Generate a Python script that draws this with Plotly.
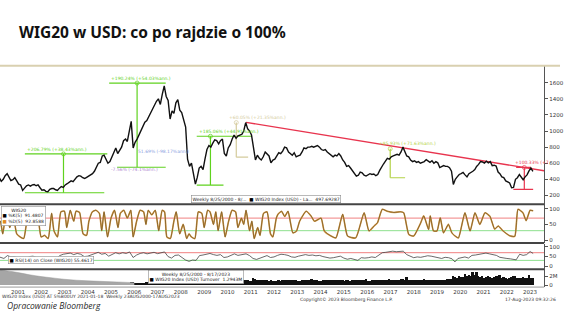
import plotly.graph_objects as go
import pandas as pd

# ---------------- DATA ----------------
# WIG20 index in USD, monthly (mid-month), Sep 2000 .. Aug 2023
price_vals = [
    420, 375, 400, 445,                                              # 2000 Sep-Dec
    470, 420, 385, 395, 420, 380, 340, 330, 262, 290, 320, 330,      # 2001
    315, 330, 335, 320, 330, 295, 265, 270, 250, 245, 275, 285,      # 2002
    285, 270, 262, 290, 310, 300, 330, 345, 360, 380, 370, 400,      # 2003
    430, 445, 440, 420, 410, 425, 440, 460, 470, 500, 560, 600,      # 2004
    610, 690, 700, 640, 600, 620, 680, 720, 790, 720, 760, 800,      # 2005
    880, 900, 870, 980, 1120, 790, 860, 900, 950, 1000, 1060, 1110,  # 2006
    1130, 1180, 1220, 1270, 1330, 1370, 1400, 1330, 1460, 1560, 1430, 1380,  # 2007
    1150, 1250, 1220, 1350, 1390, 1260, 1230, 1150, 1050, 650, 560, 600,     # 2008
    470, 340, 420, 540, 560, 520, 650, 770, 820, 800, 850, 890,      # 2009
    880, 840, 880, 900, 720, 690, 790, 830, 900, 950, 910, 940,      # 2010
    950, 960, 1000, 1105, 1030, 1000, 950, 770, 640, 700, 660, 640,  # 2011
    680, 740, 720, 690, 605, 640, 650, 690, 730, 720, 750, 800,      # 2012
    790, 740, 720, 700, 730, 680, 690, 700, 740, 790, 780, 800,      # 2013
    800, 810, 800, 815, 820, 800, 770, 760, 770, 740, 720, 700,      # 2014
    680, 700, 690, 720, 690, 640, 610, 560, 570, 540, 510, 480,      # 2015
    440, 450, 490, 480, 450, 440, 455, 470, 460, 465, 445, 460,      # 2016
    510, 560, 590, 625, 660, 650, 680, 690, 700, 710, 700, 740,      # 2017
    800, 730, 690, 680, 640, 620, 630, 610, 620, 600, 610, 620,      # 2018
    645, 625, 610, 630, 600, 620, 605, 545, 555, 570, 560, 560,      # 2019
    545, 500, 336, 400, 430, 460, 470, 485, 455, 430, 470, 480,      # 2020
    500, 520, 560, 585, 620, 615, 600, 625, 605, 620, 570, 575,      # 2021
    565, 490, 470, 430, 420, 380, 370, 355, 295, 300, 400, 420,      # 2022
    460, 430, 395, 430, 455, 505, 540, 498,                          # 2023 Jan-Aug
]
price_start = "2000-09-01"

# Red resistance trend line (date, value)
trend_dates = ["2011-04-22", "2024-02-06"]
trend_vals = [1108, 506]

# Measurement annotations: low, high, low-line span, high-line span, vertical date, label
measures = [
    dict(color="#5fd21e", low=233, high=715, low_span=(2001.80, 2005.21), high_span=(2001.80, 2005.34),
         vert=2003.46, label="+206.79% (+38.43%ann.)", lab_x=2001.80, lab_y=715),
    dict(color="#5fd21e", low=550, high=1596, low_span=(2005.76, 2007.85), high_span=(2005.42, 2007.85),
         vert=2006.62, label="+190.24% (+54.03%ann.)", lab_x=2005.42, lab_y=1596),
    dict(color="#5fd21e", low=328, high=935, low_span=(2009.18, 2010.33), high_span=(2009.18, 2011.52),
         vert=2009.77, label="+185.06% (+44.91%ann.)", lab_x=2009.18, lab_y=935),
    dict(color="#d4cb9c", low=675, high=1105, low_span=(2010.88, 2011.39), high_span=None,
         vert=2010.88, label="+60.05% (+21.35%ann.)", lab_x=2010.46, lab_y=1115),
    dict(color="#b3d246", low=419, high=779, low_span=(2017.49, 2018.13), high_span=None,
         vert=2017.49, label="+85.93% (+71.63%ann.)", lab_x=2016.94, lab_y=785),
    dict(color="#e8344e", low=274, high=547, low_span=(2022.78, 2023.63), high_span=(2022.90, 2023.54),
         vert=2023.25, label="+100.33% (+7", lab_x=2022.78, lab_y=550),
]
extra_labels = [
    ("51.69% (-98.17%ann.)", 2006.58, 745, "#8da0e0"),
    ("-7.56% (-74.1%ann.)", 2005.42, 522, "#b08ad0"),
]

# Stochastic oscillator (decimal year, value)
stoch_t = [2000.70, 2000.75, 2000.85, 2001.00, 2001.15, 2001.30, 2001.45, 2001.60, 2001.75, 2001.95,
           2002.10, 2002.25, 2002.35, 2002.50, 2002.65, 2002.80, 2002.95, 2003.05, 2003.20, 2003.35,
           2003.50, 2003.60, 2003.75, 2003.90, 2004.00, 2004.15, 2004.30, 2004.45, 2004.55, 2004.70,
           2004.85, 2005.00, 2005.10, 2005.20, 2005.35, 2005.50, 2005.65, 2005.80, 2005.90, 2006.05,
           2006.20, 2006.35, 2006.45, 2006.60, 2006.75, 2006.90, 2007.00, 2007.10, 2007.25, 2007.40,
           2007.55, 2007.70, 2007.80, 2007.90, 2008.05, 2008.20, 2008.30, 2008.45, 2008.60, 2008.75,
           2008.85, 2008.95, 2009.10, 2009.25, 2009.40, 2009.50, 2009.65, 2009.75, 2009.90, 2010.00,
           2010.10, 2010.25, 2010.40, 2010.55, 2010.70, 2010.85, 2010.95, 2011.10, 2011.20, 2011.30,
           2011.45, 2011.55, 2011.65, 2011.80, 2011.90, 2012.05, 2012.20, 2012.35, 2012.45, 2012.60,
           2012.67, 2012.82, 2012.96, 2013.10, 2013.31, 2013.46, 2013.60, 2013.88, 2014.09, 2014.24,
           2014.52, 2014.66, 2014.95, 2015.16, 2015.45, 2015.66, 2016.01, 2016.37, 2016.58, 2016.80,
           2016.94, 2017.15, 2017.36, 2017.65, 2017.93, 2018.07, 2018.29, 2018.50, 2018.79, 2018.93,
           2019.14, 2019.21, 2019.35, 2019.50, 2019.64, 2019.78, 2019.99, 2020.14, 2020.28, 2020.42,
           2020.70, 2020.92, 2021.13, 2021.34, 2021.56, 2021.77, 2021.98, 2022.13, 2022.34, 2022.62,
           2022.84, 2022.98, 2023.19, 2023.33, 2023.50, 2023.63]
stoch_v = [55, 60, 20, 90, 40, 75, 20, 10, 5, 85,
           90, 50, 80, 10, 15, 5, 85, 30, 10, 90,
           92, 40, 95, 60, 92, 88, 20, 15, 60, 90,
           95, 85, 30, 90, 10, 70, 95, 40, 85, 95,
           70, 95, 10, 60, 95, 90, 50, 95, 80, 95,
           30, 95, 90, 10, 5, 60, 90, 20, 50, 5,
           20, 10, 5, 90, 85, 40, 95, 90, 50, 90,
           30, 90, 10, 60, 95, 90, 40, 70, 50, 95,
           30, 60, 5, 40, 15, 85, 90, 20, 10, 70,
           82, 92, 75, 92, 23, 28, 60, 92, 77, 60,
           70, 29, 13, 7, 82, 13, 7, 87, 29, 45,
           55, 98, 92, 88, 90, 87, 18, 13, 53, 77,
           34, 77, 29, 29, 71, 23, 50, 23, 13, 7,
           87, 29, 87, 50, 87, 76, 35, 45, 29, 14,
           12, 98, 87, 62, 95, 93]

# RSI(14) (decimal year, value)
rsi_t = [2000.70, 2000.75, 2000.90, 2001.05, 2001.20, 2001.35, 2001.50, 2001.70, 2001.85, 2002.00,
         2002.15, 2002.30, 2002.50, 2002.70, 2002.85, 2003.00, 2003.15, 2003.30, 2003.45, 2003.60,
         2003.75, 2003.90, 2004.05, 2004.20, 2004.35, 2004.50, 2004.65, 2004.80, 2004.95, 2005.10,
         2005.25, 2005.40, 2005.55, 2005.70, 2005.85, 2006.00, 2006.15, 2006.30, 2006.45, 2006.60,
         2006.75, 2006.90, 2007.05, 2007.20, 2007.35, 2007.50, 2007.65, 2007.80, 2007.95, 2008.10,
         2008.25, 2008.40, 2008.55, 2008.70, 2008.85, 2009.00, 2009.15, 2009.30, 2009.45, 2009.60,
         2009.75, 2009.90, 2010.05, 2010.20, 2010.35, 2010.50, 2010.65, 2010.80, 2010.95, 2011.10,
         2011.30, 2011.45, 2011.60, 2011.75, 2011.90, 2012.05, 2012.20, 2012.35, 2012.50, 2012.65,
         2012.80, 2012.95, 2013.10, 2013.25, 2013.40, 2013.55, 2013.70, 2013.85, 2014.00, 2014.15,
         2014.30, 2014.45, 2014.60, 2014.75, 2014.90, 2015.05, 2015.20, 2015.35, 2015.50, 2015.65,
         2015.80, 2015.95, 2016.10, 2016.25, 2016.40, 2016.55, 2016.70, 2016.85, 2017.00, 2017.15,
         2017.30, 2017.45, 2017.60, 2017.75, 2017.90, 2018.05, 2018.20, 2018.35, 2018.50, 2018.65,
         2018.80, 2018.95, 2019.10, 2019.25, 2019.40, 2019.55, 2019.70, 2019.85, 2020.00, 2020.15,
         2020.27, 2020.40, 2020.55, 2020.70, 2020.85, 2021.00, 2021.15, 2021.30, 2021.45, 2021.60,
         2021.75, 2021.90, 2022.05, 2022.20, 2022.35, 2022.50, 2022.65, 2022.80, 2022.90, 2023.05,
         2023.20, 2023.35, 2023.50, 2023.63]
rsi_v = [48, 45, 40, 55, 48, 50, 42, 30, 38, 50,
         52, 45, 35, 32, 40, 45, 40, 55, 62, 65,
         68, 60, 66, 62, 50, 52, 58, 68, 72, 62,
         66, 52, 62, 70, 64, 70, 66, 74, 45, 58,
         66, 70, 64, 68, 72, 65, 70, 74, 50, 42,
         56, 58, 45, 32, 25, 32, 30, 55, 58, 62,
         66, 60, 56, 60, 45, 48, 58, 64, 56, 58,
         64, 55, 40, 35, 42, 50, 55, 45, 48, 56,
         62, 60, 56, 48, 46, 52, 58, 60, 56, 58,
         54, 56, 50, 46, 42, 44, 50, 52, 42, 36,
         40, 35, 30, 44, 42, 44, 48, 45, 56, 70,
         72, 76, 78, 75, 76, 78, 60, 50, 44, 48,
         46, 50, 54, 52, 48, 44, 40, 46, 44, 38,
         22, 40, 46, 48, 42, 56, 58, 62, 66, 68,
         64, 60, 56, 46, 42, 40, 38, 35, 33, 62,
         56, 60, 76, 66]

# Turnover (millions), monthly bars Jun 2005 .. Aug 2023
vol_start = "2005-06-01"
vol_vals = [
    0.20, 0.25, 0.20, 0.30, 0.30, 0.35, 0.30,
    0.40, 0.45, 0.40, 0.50, 0.70, 0.60, 0.40, 0.40, 0.45, 0.50, 0.50, 0.55,
    0.60, 0.70, 0.80, 0.70, 0.75, 0.80, 0.70, 0.90, 0.80, 0.90, 0.90, 0.80,
    1.10, 0.90, 0.90, 0.80, 0.80, 0.80, 0.90, 0.80, 1.00, 1.30, 1.00, 0.90,
    0.80, 0.90, 1.00, 1.10, 1.20, 1.00, 1.10, 1.00, 1.10, 1.00, 0.90, 0.80,
    1.00, 0.90, 1.00, 1.10, 1.20, 0.90, 0.90, 0.90, 1.00, 1.10, 1.00, 0.90,
    1.20, 1.10, 1.00, 1.10, 1.00, 0.90, 0.90, 1.50, 1.30, 1.10, 1.20, 1.00,
    1.00, 1.10, 1.00, 0.90, 1.00, 0.90, 0.80, 0.80, 1.00, 0.90, 1.00, 1.10,
    1.10, 1.00, 1.00, 1.10, 1.20, 1.20, 0.90, 0.90, 1.00, 1.10, 1.00, 1.20,
    1.20, 1.30, 1.10, 1.00, 1.00, 0.90, 0.90, 1.00, 1.00, 1.10, 1.00, 1.10,
    1.10, 1.00, 1.20, 1.20, 1.10, 1.00, 0.90, 1.00, 1.00, 0.90, 1.00, 1.10,
    1.20, 1.10, 1.00, 1.10, 1.00, 1.30, 0.90, 0.90, 1.00, 1.00, 1.10, 1.10,
    1.20, 1.10, 1.20, 1.10, 1.20, 1.40, 1.10, 1.00, 1.10, 1.20, 1.10, 1.30,
    1.30, 1.20, 1.80, 1.10, 1.10, 1.20, 1.00, 1.00, 1.10, 1.10, 1.20, 1.30,
    1.10, 1.10, 1.20, 1.10, 1.00, 1.10, 1.00, 1.20, 1.10, 1.10, 1.20, 1.40,
    1.30, 1.40, 2.10, 1.80, 1.60, 1.90, 1.70, 1.80, 2.40, 1.90, 2.20, 2.00,
    3.00, 2.20, 2.90, 2.00, 1.80, 2.10, 1.60, 1.70, 1.90, 1.80, 1.60, 1.80,
    2.00, 1.90, 2.30, 1.60, 1.80, 1.50, 1.40, 1.50, 1.70, 1.90, 2.00, 1.60,
    1.60, 1.50, 1.70, 1.50, 1.60, 2.30, 1.60, 1.50,
]
# Grey turnover backdrop in early years (decimal year, millions)
grey_t = [2000.65, 2001.0, 2001.5, 2002.0, 2002.5, 2003.0, 2003.5, 2004.0, 2004.5, 2005.0, 2005.5, 2006.0, 2006.5]
grey_v = [3.5, 3.2, 2.8, 2.3, 1.9, 1.6, 1.3, 1.1, 0.95, 0.85, 0.75, 0.65, 0.55]

price_ticks = [200, 400, 600, 800, 1000, 1200, 1400, 1600]

# ---------------- HELPERS ----------------
def yr(d):
    y = int(d)
    start = pd.Timestamp(year=y, month=1, day=1)
    end = pd.Timestamp(year=y + 1, month=1, day=1)
    return start + (end - start) * (d - y)

price_dates = pd.date_range(price_start, periods=len(price_vals), freq="MS") + pd.Timedelta(days=14)
vol_dates = pd.date_range(vol_start, periods=len(vol_vals), freq="MS") + pd.Timedelta(days=14)

X0, X1 = yr(2000.732), yr(2024.101)
W, H = 564, 317
XR = 548 / W

def py(pix):  # pixel-from-top -> paper y
    return (H - pix) / H

fig = go.Figure()

# ---------------- MAIN PANEL ----------------
for m in measures:
    c = m["color"]
    lx = [yr(m["low_span"][0]), yr(m["low_span"][1])]
    fig.add_trace(go.Scatter(x=lx, y=[m["low"], m["low"]], mode="lines", line=dict(color=c, width=1.2),
                             xaxis="x", yaxis="y", hoverinfo="skip"))
    if m["high_span"]:
        hx = [yr(m["high_span"][0]), yr(m["high_span"][1])]
        fig.add_trace(go.Scatter(x=hx, y=[m["high"], m["high"]], mode="lines", line=dict(color=c, width=1.2),
                                 xaxis="x", yaxis="y", hoverinfo="skip"))
    vx = yr(m["vert"])
    fig.add_trace(go.Scatter(x=[vx, vx], y=[m["low"], m["high"]], mode="lines+markers",
                             line=dict(color=c, width=1.2),
                             marker=dict(symbol=["line-ew", "circle-open"], size=[0, 4], color=c, line=dict(width=1, color=c)),
                             xaxis="x", yaxis="y", hoverinfo="skip"))

fig.add_trace(go.Scatter(x=[pd.Timestamp(d) for d in trend_dates], y=trend_vals, mode="lines",
                         line=dict(color="#e8344e", width=1.4), xaxis="x", yaxis="y"))
fig.add_trace(go.Scatter(x=price_dates, y=price_vals, mode="lines",
                         line=dict(color="#111111", width=1.4), xaxis="x", yaxis="y"))

# ---------------- STOCHASTIC ----------------
st_x = [yr(t) for t in stoch_t]
for lvl, col in [(70, "#f08080"), (30, "#8ee08e")]:
    fig.add_trace(go.Scatter(x=[X0, X1], y=[lvl, lvl], mode="lines", line=dict(color=col, width=1),
                             xaxis="x2", yaxis="y2"))
fig.add_trace(go.Scatter(x=st_x, y=stoch_v, mode="lines", line=dict(color="#d89a48", width=1.6, shape="spline", smoothing=0.5),
                         xaxis="x2", yaxis="y2"))
fig.add_trace(go.Scatter(x=st_x, y=stoch_v, mode="lines", line=dict(color="#6b5524", width=0.7, shape="spline", smoothing=0.5),
                         xaxis="x2", yaxis="y2"))

# ---------------- RSI ----------------
rs_x = [yr(t) for t in rsi_t]
for lvl, col in [(70, "#f08080"), (30, "#8ee08e")]:
    fig.add_trace(go.Scatter(x=[X0, X1], y=[lvl, lvl], mode="lines", line=dict(color=col, width=1),
                             xaxis="x3", yaxis="y3"))
fig.add_trace(go.Scatter(x=rs_x, y=rsi_v, mode="lines", line=dict(color="#444444", width=0.8),
                         xaxis="x3", yaxis="y3"))

# ---------------- VOLUME ----------------
fig.add_trace(go.Scatter(x=[yr(t) for t in grey_t], y=grey_v, mode="lines", fill="tozeroy",
                         line=dict(color="#9a9a9a", width=0.5, shape="spline"), fillcolor="#a6a6a6",
                         xaxis="x4", yaxis="y4"))
fig.add_trace(go.Bar(x=vol_dates, y=vol_vals, marker=dict(color="#111111", line=dict(width=0)),
                     xaxis="x4", yaxis="y4"))

# ---------------- LAYOUT ----------------
ax_common = dict(range=[X0, X1], domain=[0, XR], showgrid=False, zeroline=False, showline=False,
                 showticklabels=False, ticks="", type="date")
yfont = dict(family="DejaVu Sans", size=5.5, color="#333333")
y_common = dict(side="right", showgrid=False, zeroline=False, showline=True, linecolor="#555555",
                linewidth=1, ticks="outside", ticklen=3, tickcolor="#555555", tickfont=yfont)

layout = dict(
    width=W, height=H, margin=dict(l=0, r=0, t=0, b=0),
    paper_bgcolor="white", plot_bgcolor="white", showlegend=False, bargap=0,
    xaxis=dict(**ax_common, anchor="y"),
    xaxis2=dict(**ax_common, anchor="y2", matches="x"),
    xaxis3=dict(**ax_common, anchor="y3", matches="x"),
    xaxis4=dict(ax_common, anchor="y4", matches="x", showticklabels=True, dtick="M12", tick0="2000-01-01",
                tickformat="%Y", ticklabelmode="period", tickfont=dict(family="DejaVu Sans", size=5.5, color="#333")),
    xaxis5=dict(ax_common, anchor="y4", overlaying="x4", ticks="outside", ticklen=9, tickcolor="#999999",
                dtick="M12", tick0="2000-01-01"),
    yaxis=dict(y_common, domain=[py(205), py(66)], range=[88.5, 1811], tickvals=price_ticks, anchor="x"),
    yaxis2=dict(y_common, domain=[py(243.5), py(205)], range=[-8.3, 113.7], tickvals=[0, 50, 100], anchor="x2"),
    yaxis3=dict(y_common, domain=[py(270), py(244.5)], range=[-15.5, 116.6], tickvals=[0, 50, 100], anchor="x3"),
    yaxis4=dict(y_common, domain=[py(288), py(270)], range=[-0.44, 3.56], tickvals=[0, 2],
                ticktext=["0", "2M"], anchor="x4"),
)
fig.update_layout(**layout)

shapes = []
for pix, col, w in [(205, "#444444", 2), (243.8, "#444444", 2), (270, "#444444", 2), (288, "#999999", 1)]:
    shapes.append(dict(type="line", xref="paper", yref="paper", x0=0, x1=XR, y0=py(pix), y1=py(pix),
                       line=dict(color=col, width=w)))
shapes.append(dict(type="line", xref="paper", yref="paper", x0=0, x1=1, y0=py(66), y1=py(66),
                   line=dict(color="#d9d0b0", width=2)))
fig.update_layout(shapes=shapes)

ann = []
small = dict(family="DejaVu Sans", size=4.5)
for m in measures:
    ann.append(dict(x=yr(m["lab_x"]), y=m["lab_y"], xref="x", yref="y", text=m["label"], showarrow=False,
                    xanchor="left", yanchor="bottom", font=dict(small, color=m["color"])))
for txt, xv, yv, col in extra_labels:
    ann.append(dict(x=yr(xv), y=yv, xref="x", yref="y", text=txt, showarrow=False,
                    xanchor="left", yanchor="middle", font=dict(small, color=col)))

box = dict(showarrow=False, bgcolor="white", bordercolor="#8a8a8a", borderwidth=0.6, borderpad=1,
           font=dict(small, color="#222"), xref="paper", yref="paper")
ann.append(dict(box, x=192 / W, y=py(200), xanchor="left", yanchor="middle",
                text="Weekly 8/25/2000 - 8/...&nbsp;&nbsp;<span style='color:#000'>■</span> WIG20 Index (USD) - La...&nbsp;&nbsp;497.69287"))
ann.append(dict(box, x=1 / W, y=py(207), xanchor="left", yanchor="top", align="left",
                text="&nbsp;&nbsp;&nbsp;&nbsp;&nbsp;&nbsp;WIG20<br><span style='color:#000'>■</span> %K(5)&nbsp;&nbsp;91.4807<br><span style='color:#e08a20'>■</span> %D(5)&nbsp;&nbsp;92.8588"))
ann.append(dict(box, x=8 / W, y=py(261), xanchor="left", yanchor="middle",
                text="<span style='color:#000'>■</span> RSI(14) on Close (WIG20) 55.4617"))
ann.append(dict(box, x=197 / W, y=py(277.5), xanchor="center", yanchor="middle",
                text="Weekly 8/25/2000 - 8/17/2023<br><span style='color:#000'>■</span> WIG20 Index (USD) Turnover&nbsp;&nbsp;1.2943M"))

foot = dict(family="DejaVu Sans", size=4.5, color="#333")
ann.append(dict(x=0, y=py(297.5), xref="paper", yref="paper", xanchor="left", yanchor="middle", showarrow=False,
                text="WIG20 Index (USD) AT 5%B00UY 2021-01-18&nbsp;&nbsp;Weekly 23AUG2000-17AUG2023", font=foot))
ann.append(dict(x=300 / W, y=py(300.5), xref="paper", yref="paper", xanchor="left", yanchor="middle", showarrow=False,
                text="Copyright© 2023 Bloomberg Finance L.P.", font=foot))
ann.append(dict(x=562 / W, y=py(300.5), xref="paper", yref="paper", xanchor="right", yanchor="middle", showarrow=False,
                text="17-Aug-2023 09:32:26", font=foot))
ann.append(dict(x=5 / W, y=py(306.5), xref="paper", yref="paper", xanchor="left", yanchor="middle", showarrow=False,
                text="<i>Opracowanie Bloomberg</i>", font=dict(family="Open Sans", size=8.5, color="#2a2a2a")))
ann.append(dict(x=17 / W, y=py(32), xref="paper", yref="paper", xanchor="left", yanchor="middle", showarrow=False,
                text="<b>WIG20 w USD: co po rajdzie o 100%</b>", font=dict(family="Noto Sans", size=15.5, color="#111")))
fig.update_layout(annotations=ann)

fig.write_html("out.html")
